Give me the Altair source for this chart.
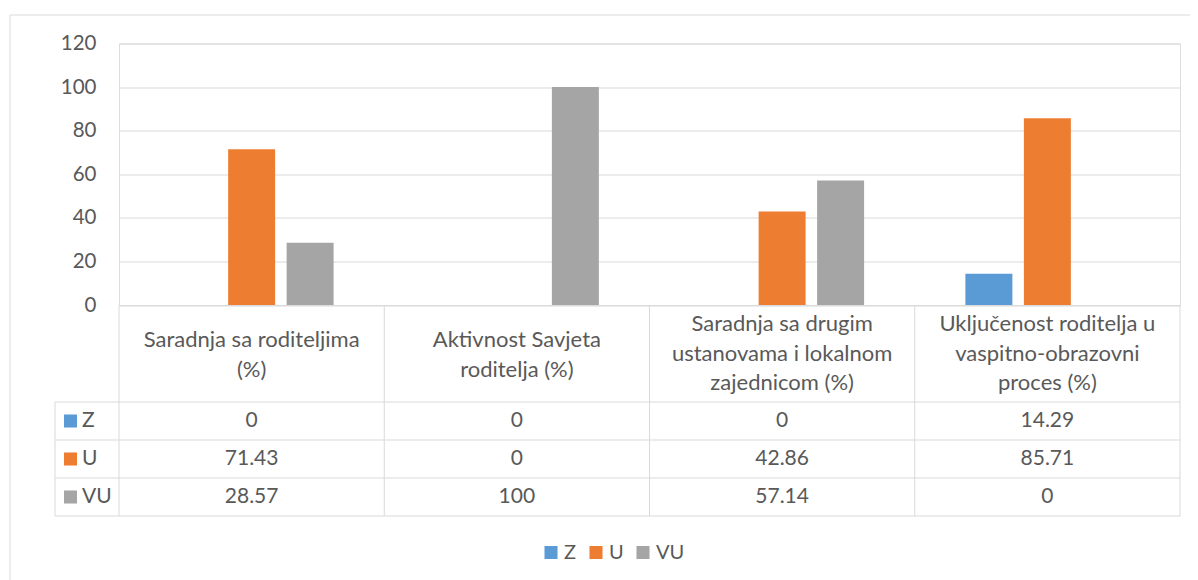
import altair as alt
import pandas as pd

categories = [
    "Saradnja sa roditeljima (%)",
    "Aktivnost Savjeta roditelja (%)",
    "Saradnja sa drugim ustanovama i lokalnom zajednicom (%)",
    "Uključenost roditelja u vaspitno-obrazovni proces (%)",
]
header_lines = [
    "Saradnja sa roditeljima\n(%)",
    "Aktivnost Savjeta\nroditelja (%)",
    "Saradnja sa drugim\nustanovama i lokalnom\nzajednicom (%)",
    "Uključenost roditelja u\nvaspitno-obrazovni\nproces (%)",
]
series = ["Z", "U", "VU"]
z_values = [0, 0, 0, 14.29]
u_values = [71.43, 0, 42.86, 85.71]
vu_values = [28.57, 100, 57.14, 0]
colors = ["#5B9BD5", "#ED7D31", "#A5A5A5"]
y_ticks = [0, 20, 40, 60, 80, 100, 120]

FONT = "Lato"
TXT = "#595959"
LINE = "#D9D9D9"
W, H = 1061, 261.5

rows = []
for s, vals in zip(series, [z_values, u_values, vu_values]):
    for c, v in zip(categories, vals):
        rows.append({"cat": c, "series": s, "value": v, "label": f"{v:g}"})
df = pd.DataFrame(rows)
hdr = pd.DataFrame({"cat": categories, "header": header_lines})
hdr["nlines"] = hdr["header"].str.count("\n") + 1
ser = pd.DataFrame({"series": series})
one = pd.DataFrame({"k": [0]})

xscale = alt.Scale(type="band", domain=categories, paddingInner=0, paddingOuter=0)
cscale = alt.Scale(domain=series, range=colors)
row_scale = alt.Scale(type="point", domain=series, range=[377.5, 453.5], padding=0)

border = alt.Chart(one).mark_rect(fill="transparent", stroke=LINE, strokeWidth=1).encode(
    x=alt.value(-109), x2=alt.value(1095), y=alt.value(-28.5), y2=alt.value(600)
)

bars = alt.Chart(df).mark_bar().encode(
    x=alt.X("cat:N", scale=xscale, axis=None, sort=categories),
    xOffset=alt.XOffset("series:N", scale=alt.Scale(domain=series, paddingInner=0.197, paddingOuter=0.866)),
    y=alt.Y("value:Q", scale=alt.Scale(domain=[0, 120], nice=False),
            axis=alt.Axis(values=y_ticks, title=None, grid=True, gridColor=LINE, gridWidth=1,
                          domain=False, ticks=False, labelFont=FONT, labelFontSize=20.5,
                          labelColor=TXT, labelPadding=23)),
    color=alt.Color("series:N", scale=cscale, sort=series,
                    legend=alt.Legend(orient="none", legendX=422, legendY=499, direction="horizontal",
                                      title=None, symbolType="square", symbolSize=170,
                                      symbolStrokeWidth=0, labelFont=FONT, labelFontSize=20,
                                      labelColor=TXT, columnPadding=9, labelOffset=3, padding=0)),
)

hlines = []
for yy in [358.5, 396.5, 434.5, 472.5]:
    hlines.append(alt.Chart(one).mark_rule(color=LINE, strokeWidth=1).encode(
        x=alt.value(-64), x2=alt.value(W), y=alt.value(yy)))

vlines = alt.Chart(hdr).mark_rule(color=LINE, strokeWidth=1).encode(
    x=alt.X("cat:N", scale=xscale, axis=None, bandPosition=1),
    y=alt.value(261.5), y2=alt.value(472.5),
)
vleft = alt.Chart(one).mark_rule(color=LINE, strokeWidth=1).encode(
    x=alt.value(0), y=alt.value(261.5), y2=alt.value(472.5))
vleft2 = alt.Chart(one).mark_rule(color=LINE, strokeWidth=1).encode(
    x=alt.value(-64), y=alt.value(358.5), y2=alt.value(472.5))

header_layers = []
for n, ytop in [(2, 296.5), (3, 280.5)]:
    header_layers.append(
        alt.Chart(hdr).transform_filter(alt.datum.nlines == n).mark_text(
            font=FONT, fontSize=22, color=TXT, lineBreak="\n", lineHeight=29.5,
            baseline="middle", align="center").encode(
            x=alt.X("cat:N", scale=xscale, axis=None),
            y=alt.value(ytop),
            text="header:N",
        )
    )

cells = alt.Chart(df).mark_text(font=FONT, fontSize=21, color=TXT, baseline="middle",
                                align="center").encode(
    x=alt.X("cat:N", scale=xscale, axis=None),
    y=alt.Y("series:N", scale=row_scale, axis=None),
    text="label:N",
)

row_sq = alt.Chart(ser).mark_point(shape="square", filled=True, size=170, opacity=1).encode(
    x=alt.value(-48.5),
    y=alt.Y("series:N", scale=row_scale, axis=None),
    color=alt.Color("series:N", scale=cscale, legend=None),
)
row_txt = alt.Chart(ser).mark_text(font=FONT, fontSize=21, color=TXT, baseline="middle",
                                   align="left").encode(
    x=alt.value(-37),
    y=alt.Y("series:N", scale=row_scale, axis=None),
    text="series:N",
)

chart = alt.layer(border, bars, *hlines, vlines, vleft, vleft2, *header_layers, cells, row_sq, row_txt).resolve_scale(
    y="independent"
).properties(
    width=W, height=H,
    autosize=alt.AutoSizeParams(type="none"),
    padding={"left": 111, "top": 35.5, "right": 10, "bottom": 280},
).configure_view(strokeWidth=0).configure(background="white")

chart.save("out.html", embed_options={"renderer": "svg", "actions": False})
